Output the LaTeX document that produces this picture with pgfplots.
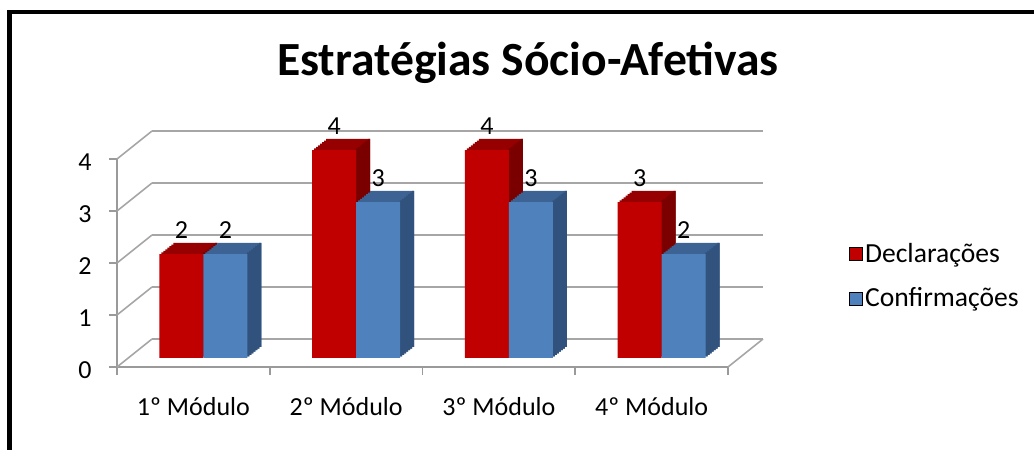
\documentclass[border=0pt]{standalone}
\usepackage{pgfplots}
\pgfplotsset{compat=1.18}
\usepackage{pgfplotstable}
\usepackage{fontspec}
\setmainfont{Carlito}
\definecolor{redfront}{HTML}{C00000}
\definecolor{redtop}{HTML}{960000}
\definecolor{redside}{HTML}{7A0000}
\definecolor{bluefront}{HTML}{4F81BD}
\definecolor{bluetop}{HTML}{3C6394}
\definecolor{blueside}{HTML}{30527C}
\definecolor{gridgray}{HTML}{A6A6A6}
\definecolor{axisgray}{HTML}{9A9A9A}
\pgfplotstableread{
x dec conf
0 2 2
1 4 3
2 4 3
3 3 2
}\data
\begin{document}
\begin{tikzpicture}
\path[use as bounding box] (0pt,0pt) rectangle (517pt,225pt);
\fill[black] (3.5pt,0pt) rectangle (6pt,220pt);
\fill[black] (3.5pt,218pt) rectangle (517pt,220pt);
\node[font=\bfseries\fontsize{23.8}{28}\selectfont, anchor=base] at (264pt,187pt) {Estratégias Sócio-Afetivas};
\begin{axis}[
  at={(96.7pt,41.5pt)}, anchor=origin,
  x=76.375pt, y=26pt,
  xmin=-0.5, xmax=3.5, ymin=0, ymax=4,
  clip=false,
  axis lines*=left,
  axis line style={axisgray, line width=0.8pt},
  every tick/.style={axisgray, line width=0.8pt},
  tick align=outside,
  major tick length=4pt,
  xtick={-0.5,0.5,1.5,2.5,3.5},
  xticklabels={},
  extra x ticks={0,1,2,3},
  extra x tick labels={1º Módulo,2º Módulo,3º Módulo,4º Módulo},
  extra x tick style={major tick length=0pt, xticklabel style={anchor=center, yshift=-20pt}},
  ytick={0,1,2,3,4},
  yticklabel style={anchor=center, xshift=-12pt, yshift=-1.5pt},
  ticklabel style={font=\fontsize{13}{15}\selectfont},
  /pgf/number format/assume math mode=true,
  legend image code/.code={\fill[#1] (0pt,-3.3pt) rectangle (6.6pt,3.3pt);},
  legend style={at={(axis cs:4.29,1.74)}, anchor=west, draw=none, fill=none,
    inner sep=0pt, row sep=9.3pt, font=\fontsize{13.8}{16}\selectfont,
    nodes={inner sep=1pt},
    /tikz/every even column/.append style={column sep=3pt}},
  legend cell align=left,
]
% back wall & side wall grid
\pgfplotsinvokeforeach{0,1,2,3,4}{
  \draw[gridgray, line width=0.8pt] ([shift={(17.5pt,14pt)}]axis cs:-0.5,#1) -- ([shift={(17.5pt,14pt)}]axis cs:3.5,#1);
  \draw[gridgray, line width=0.8pt] (axis cs:-0.5,#1) -- ([shift={(17.5pt,14pt)}]axis cs:-0.5,#1);
}
\draw[gridgray, line width=0.8pt] (axis cs:3.5,0) -- ([shift={(17.5pt,14pt)}]axis cs:3.5,0);
\addlegendimage{fill=redfront}
\addlegendentry{Declarações}
\addlegendimage{fill=bluefront}
\addlegendentry{Confirmações}
% red series: depth
\pgfplotsinvokeforeach{1,...,7}{
  \addplot[ybar, bar width=22pt, bar shift=-11pt, fill=redtop, draw=none, forget plot,
    xshift={(5+#1)*1pt}, yshift={(4.5+0.786*#1)*1pt}] table[x=x,y=dec]{\data};
}
\pgfplotsinvokeforeach{1,...,7}{
  \addplot[ybar, bar width=1.2pt, bar shift=-0.6pt, fill=redside, draw=none, forget plot,
    xshift={(5+#1)*1pt}, yshift={(4.5+0.786*#1)*1pt}] table[x=x,y=dec]{\data};
}
\addplot[ybar, bar width=22pt, bar shift=-11pt, fill=redfront, draw=none, forget plot,
  xshift=5pt, yshift=4.5pt,
  nodes near coords,
  nodes near coords style={anchor=center, xshift=-11pt, yshift=12pt, font=\fontsize{13}{15}\selectfont, text=black}]
  table[x=x,y=dec]{\data};
% blue series: depth
\pgfplotsinvokeforeach{1,...,7}{
  \addplot[ybar, bar width=22pt, bar shift=11pt, fill=bluetop, draw=none, forget plot,
    xshift={(5+#1)*1pt}, yshift={(4.5+0.786*#1)*1pt}] table[x=x,y=conf]{\data};
}
\pgfplotsinvokeforeach{1,...,7}{
  \addplot[ybar, bar width=1.2pt, bar shift=21.4pt, fill=blueside, draw=none, forget plot,
    xshift={(5+#1)*1pt}, yshift={(4.5+0.786*#1)*1pt}] table[x=x,y=conf]{\data};
}
\addplot[ybar, bar width=22pt, bar shift=11pt, fill=bluefront, draw=none, forget plot,
  xshift=5pt, yshift=4.5pt,
  nodes near coords,
  nodes near coords style={anchor=center, xshift=11pt, yshift=12pt, font=\fontsize{13}{15}\selectfont, text=black}]
  table[x=x,y=conf]{\data};
\end{axis}
\end{tikzpicture}
\end{document}
